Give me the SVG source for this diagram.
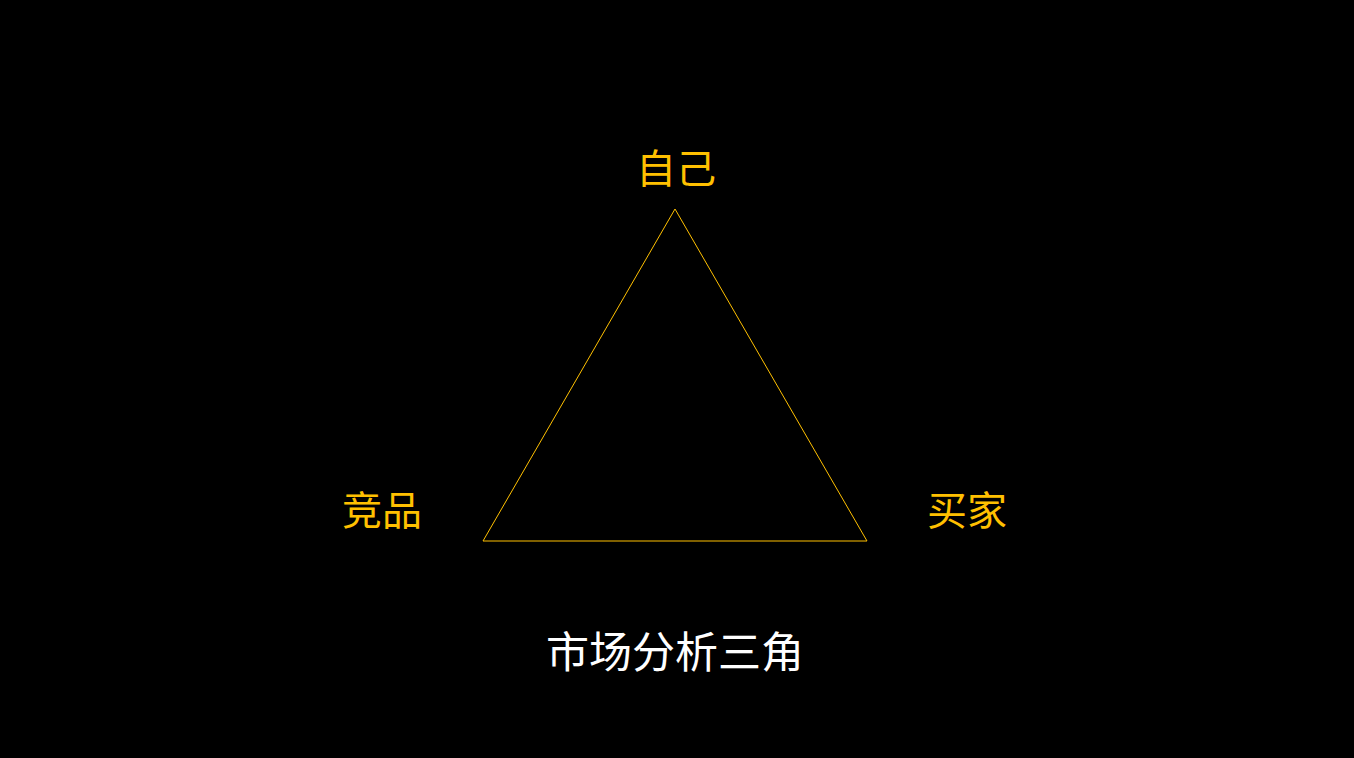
<svg xmlns="http://www.w3.org/2000/svg" width="1354" height="758" viewBox="0 0 1354 758">
<style>
.lbl{font-family:"Liberation Sans","Noto Sans CJK SC",sans-serif;font-size:40px;fill:#FFC000;text-anchor:middle}
.title{font-family:"Liberation Sans","Noto Sans CJK SC",sans-serif;font-size:43px;fill:#FFFFFF;text-anchor:middle}
.edge{fill:none;stroke:#FFC000;stroke-width:1}
</style>
<rect width="1354" height="758" fill="#000000"/>
<g id="connectors">
<polygon class="edge" points="675,209 867,541 483,541"/>
</g>
<g id="node-self"><text class="lbl" x="676" y="183">自己</text></g>
<g id="node-competitor"><text class="lbl" x="382" y="525">竞品</text></g>
<g id="node-buyer"><text class="lbl" x="967" y="525">买家</text></g>
<g id="title"><text class="title" x="675" y="668">市场分析三角</text></g>
</svg>
